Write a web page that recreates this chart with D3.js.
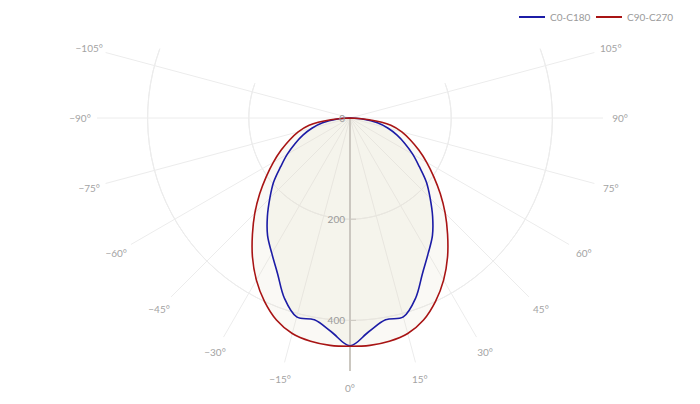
<!DOCTYPE html>
<html>
<head>
<meta charset="utf-8">
<script src="https://cdn.jsdelivr.net/npm/d3@7"></script>
<style>
  body { margin: 0; background: #fff; }
  text { font-family: Lato, "Open Sans", sans-serif; }
</style>
</head>
<body>
<script>
// luminous intensity (cd/klm) per gamma angle, symmetric around 0
const angles = [-90,-85,-80,-75,-70,-65,-60,-55,-50,-45,-40,-35,-30,-25,-20,-15,-10,-5,0,
                5,10,15,20,25,30,35,40,45,50,55,60,65,70,75,80,85,90];
const c0c180 = [0,27,55,78,99,120,143,167,197,224,254,284,309,339,379,407,405,424,450,
                424,405,407,379,339,309,284,254,224,197,167,143,120,99,78,55,27,0];
const c90c270 = [0,38,82,106,127,150,175,202,233,266,300,336,370,400,425,441,448,451,451,
                 451,448,441,425,400,370,336,300,266,233,202,175,150,127,106,82,38,0];
const angleTicks = [-105,-90,-75,-60,-45,-30,-15,0,15,30,45,60,75,90,105];
const radialTicks = [0,200,400];
const seriesNames = ["C0-C180","C90-C270"];
const seriesColors = ["#1c1ca6","#a81414"];

const width = 700, height = 404;
const cx = 350, cy = 118;

const svg = d3.select("body").append("svg")
  .attr("width", width).attr("height", height);

const r = d3.scaleLinear().domain([0, 500]).range([0, 253]);
// 0° points straight down, positive angles to the right
const a = d3.scaleLinear().domain([-180, 180]).range([2 * Math.PI, 0]);

const g = svg.append("g").attr("transform", `translate(${cx},${cy})`);

// grid arcs
const arc = d3.arc();
radialTicks.filter(d => d > 0).forEach(t => {
  g.append("path")
    .attr("d", arc({innerRadius: r(t), outerRadius: r(t), startAngle: a(110), endAngle: a(-110)}))
    .attr("fill", "none").attr("stroke", "#ececec").attr("stroke-width", 1);
});

// spokes
g.selectAll(".spoke")
  .data(angleTicks)
  .join("line")
  .attr("x1", 0).attr("y1", 0)
  .attr("x2", d => r(500) * Math.sin(a(d)))
  .attr("y2", d => -r(500) * Math.cos(a(d)))
  .attr("stroke", "#ececec").attr("stroke-width", 1);

// angle labels
g.selectAll(".alabel")
  .data(angleTicks)
  .join("text")
  .attr("x", d => 270 * Math.sin(a(d)))
  .attr("y", d => -270 * Math.cos(a(d)))
  .attr("text-anchor", "middle")
  .attr("dominant-baseline", "central")
  .attr("font-size", 10)
  .attr("fill", "#a3a3a3")
  .text(d => (d < 0 ? "\u2212" + (-d) : d) + "°");

const data = [c0c180, c90c270];
const line = d3.lineRadial()
  .angle(d => a(d[0]))
  .radius(d => r(d[1]))
  .curve(d3.curveCatmullRom);

// fills
data.forEach(vals => {
  const pts = angles.map((t, i) => [t, vals[i]]);
  g.append("path")
    .attr("d", line(pts) + "Z")
    .attr("fill", "rgba(222,218,190,0.16)")
    .attr("stroke", "none");
});

// radial axis
g.append("line")
  .attr("x1", 0).attr("y1", 0).attr("x2", 0).attr("y2", r(500))
  .attr("stroke", "#cbc7c0").attr("stroke-width", 2);

g.selectAll(".rtick")
  .data(radialTicks.filter(d => d > 0))
  .join("line")
  .attr("x1", -1).attr("x2", 6)
  .attr("y1", d => r(d)).attr("y2", d => r(d))
  .attr("stroke", "#cbc7c0").attr("stroke-width", 1);

// lines
data.forEach((vals, k) => {
  const pts = angles.map((t, i) => [t, vals[i]]);
  g.append("path")
    .attr("d", line(pts))
    .attr("fill", "none")
    .attr("stroke", seriesColors[k])
    .attr("stroke-width", 1.6);
});

g.selectAll(".rlabel")
  .data(radialTicks)
  .join("text")
  .attr("x", -5)
  .attr("y", d => r(d))
  .attr("text-anchor", "end")
  .attr("dominant-baseline", "central")
  .attr("font-size", 10)
  .attr("fill", "#9a9a9a")
  .text(d => d);

// legend
const legend = svg.append("g");
const lx = [519, 596];
seriesNames.forEach((name, k) => {
  legend.append("line")
    .attr("x1", lx[k]).attr("x2", lx[k] + 26)
    .attr("y1", 17).attr("y2", 17)
    .attr("stroke", seriesColors[k]).attr("stroke-width", 2);
  legend.append("text")
    .attr("x", lx[k] + 31).attr("y", 17)
    .attr("dominant-baseline", "central")
    .attr("font-size", 10)
    .attr("fill", "#9a9a9a")
    .text(name);
});
</script>
</body>
</html>
